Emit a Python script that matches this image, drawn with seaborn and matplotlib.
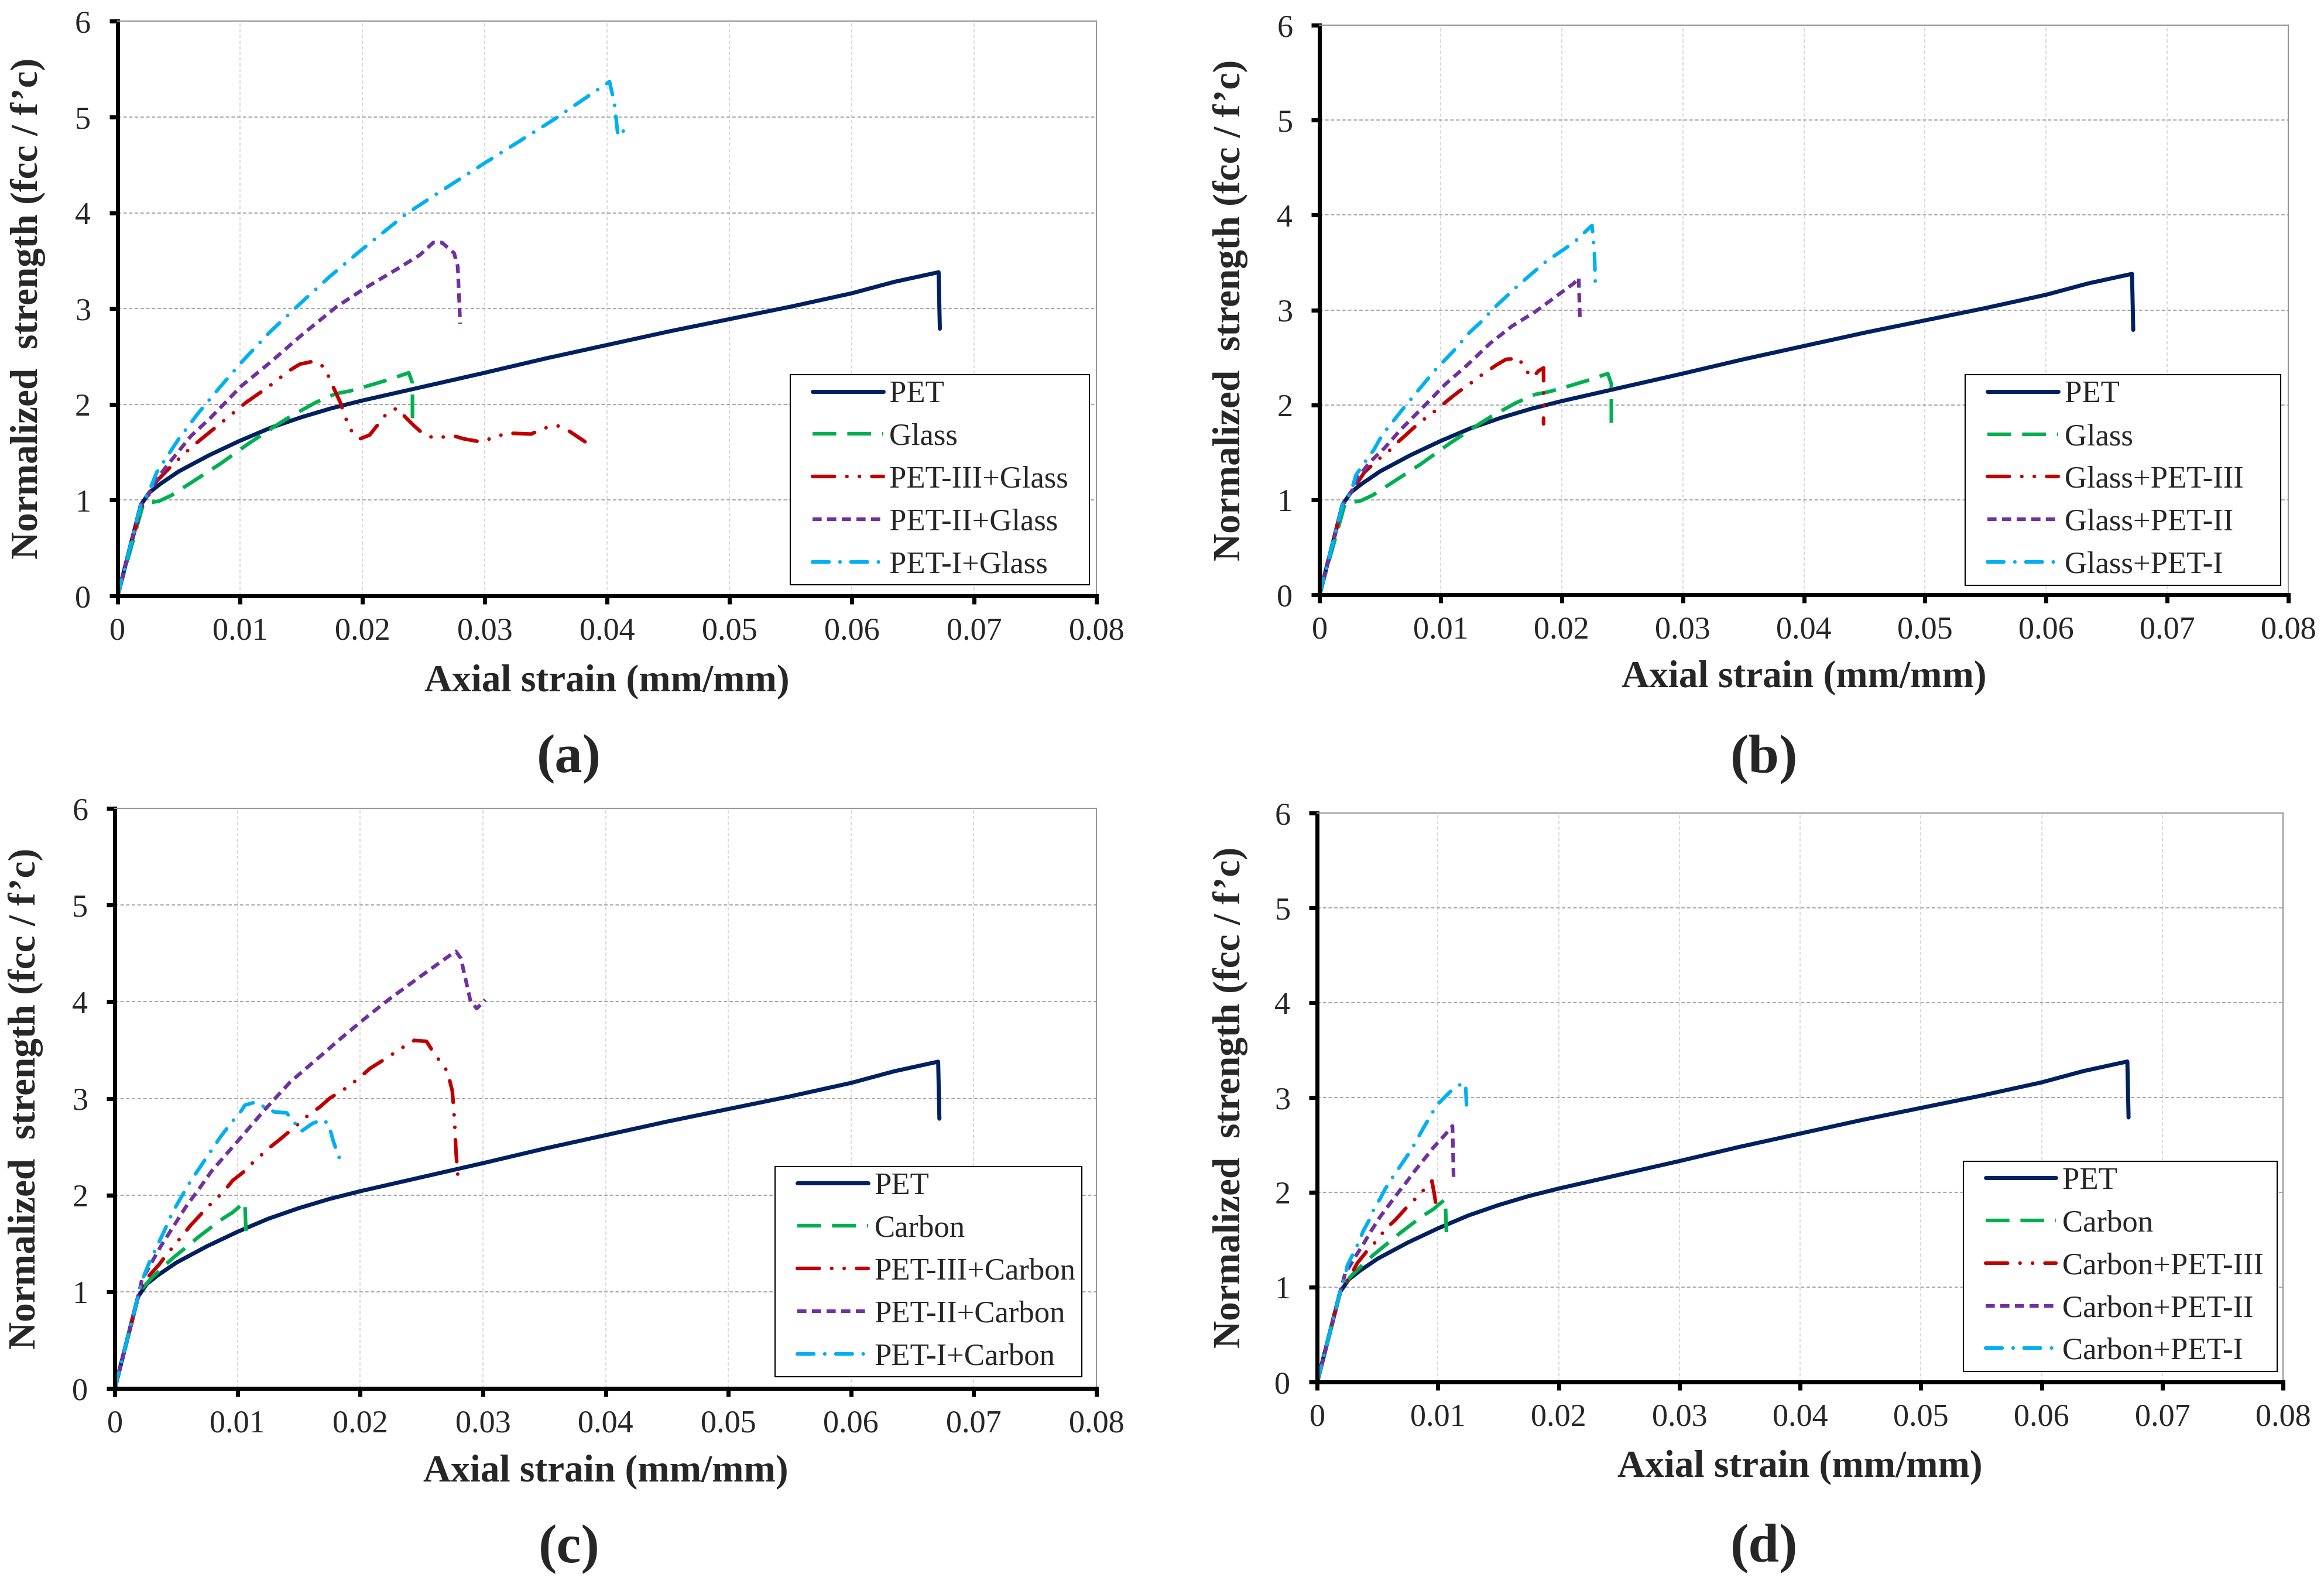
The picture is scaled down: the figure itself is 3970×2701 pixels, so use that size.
import matplotlib
matplotlib.use("Agg")
import matplotlib.pyplot as plt
from matplotlib.lines import Line2D
from matplotlib.legend_handler import HandlerLine2D
import seaborn as sns

# Axial strain (mm/mm) vs normalized strength fcc/f'c

# PET jacket, same curve in every panel
strain_pet = [0, 0.0019, 0.0026, 0.0035, 0.005, 0.0075, 0.01, 0.0125, 0.015, 0.0175,
              0.02, 0.025, 0.03, 0.035, 0.04, 0.045, 0.05, 0.055, 0.06, 0.0635, 0.0671, 0.0672]
stress_pet = [0, 0.95, 1.08, 1.17, 1.30, 1.47, 1.62, 1.755, 1.865, 1.96,
              2.04, 2.185, 2.33, 2.48, 2.62, 2.76, 2.89, 3.02, 3.16, 3.28, 3.38, 2.79]

# Glass jacket, panels (a) and (b)
strain_glass = [0, 0.0021, 0.0034, 0.0044, 0.0061, 0.0084, 0.0107, 0.0132, 0.0142, 0.0162,
                0.0178, 0.019, 0.0209, 0.0222, 0.0238, 0.0241, 0.0241]
stress_glass = [0, 0.96, 0.99, 1.05, 1.19, 1.38, 1.59, 1.80, 1.88, 2.02,
                2.11, 2.14, 2.21, 2.26, 2.33, 2.22, 1.80]

# Carbon jacket, panels (c) and (d)
strain_carbon = [0, 0.002, 0.0029, 0.004, 0.0047, 0.006, 0.0068, 0.0082, 0.0089, 0.0096,
                 0.0101, 0.0106, 0.0107]
stress_carbon = [0, 1.0, 1.13, 1.265, 1.345, 1.48, 1.565, 1.70, 1.765, 1.82,
                 1.875, 1.925, 1.58]

# (a) PET inside, glass outside
strain_p3_glass = [0, 0.0019, 0.0024, 0.0032, 0.0045, 0.006, 0.0083, 0.0105, 0.0124, 0.014,
                   0.0149, 0.016, 0.0169, 0.0177, 0.0182, 0.0186, 0.019, 0.0198, 0.0206, 0.0219,
                   0.0228, 0.0235, 0.0242, 0.0249, 0.0258, 0.0275, 0.0283, 0.0296, 0.0307, 0.0318,
                   0.0338, 0.0348, 0.0359, 0.0368, 0.0382]
stress_p3_glass = [0, 0.92, 1.02, 1.20, 1.37, 1.55, 1.79, 2.02, 2.19, 2.35,
                   2.42, 2.45, 2.39, 2.16, 2.02, 1.87, 1.74, 1.64, 1.68, 1.89,
                   1.96, 1.87, 1.78, 1.70, 1.65, 1.67, 1.64, 1.61, 1.65, 1.70,
                   1.69, 1.75, 1.78, 1.73, 1.61]
strain_p2_glass = [0, 0.0019, 0.0026, 0.0032, 0.0041, 0.006, 0.0076, 0.0101, 0.0124, 0.0151,
                   0.0179, 0.0203, 0.0228, 0.0247, 0.0258, 0.0265, 0.0275, 0.0278, 0.028]
stress_p2_glass = [0, 0.95, 1.08, 1.22, 1.37, 1.67, 1.86, 2.19, 2.43, 2.73,
                   3.02, 3.22, 3.41, 3.56, 3.69, 3.69, 3.58, 3.44, 2.84]
strain_p1_glass = [0, 0.0019, 0.0026, 0.0032, 0.005, 0.0066, 0.0083, 0.0102, 0.0124, 0.0149,
                   0.0173, 0.0198, 0.0236, 0.0261, 0.03, 0.0356, 0.0402, 0.0406, 0.0409, 0.0413,
                   0.0418]
stress_p1_glass = [0, 0.95, 1.10, 1.29, 1.64, 1.91, 2.17, 2.45, 2.75, 3.05,
                   3.33, 3.60, 3.99, 4.20, 4.52, 4.97, 5.37, 5.15, 4.80, 4.85,
                   4.92]

# (b) glass inside, PET outside
strain_glass_p3 = [0, 0.0019, 0.0026, 0.0037, 0.0048, 0.0057, 0.0063, 0.0071, 0.0083, 0.0091,
                   0.0107, 0.0115, 0.0123, 0.0131, 0.0146, 0.0154, 0.0165, 0.0169, 0.0176, 0.0181,
                   0.0185, 0.0185]
stress_glass_p3 = [0, 0.95, 1.08, 1.29, 1.42, 1.51, 1.59, 1.68, 1.82, 1.89,
                   2.06, 2.14, 2.21, 2.29, 2.42, 2.48, 2.49, 2.38, 2.29, 2.36,
                   2.39, 1.80]
strain_glass_p2 = [0, 0.0019, 0.0026, 0.0032, 0.0041, 0.0054, 0.0067, 0.0085, 0.0104, 0.0122,
                   0.0141, 0.0159, 0.0178, 0.0195, 0.021, 0.0214, 0.0215]
stress_glass_p2 = [0, 0.95, 1.08, 1.24, 1.39, 1.55, 1.74, 1.97, 2.22, 2.42,
                   2.65, 2.83, 2.98, 3.14, 3.28, 3.34, 2.92]
strain_glass_p1 = [0, 0.0019, 0.0026, 0.003, 0.0037, 0.0045, 0.0052, 0.0059, 0.0069, 0.008,
                   0.0095, 0.0104, 0.0113, 0.0122, 0.0133, 0.0144, 0.0165, 0.0187, 0.021, 0.0225,
                   0.0227, 0.0228]
stress_glass_p1 = [0, 0.95, 1.08, 1.26, 1.39, 1.53, 1.69, 1.80, 1.96, 2.13,
                   2.36, 2.48, 2.60, 2.74, 2.87, 3.02, 3.27, 3.51, 3.71, 3.89,
                   3.60, 3.20]

# (c) PET inside, carbon outside
strain_p3_carbon = [0, 0.0019, 0.0024, 0.0036, 0.0042, 0.0055, 0.0062, 0.0076, 0.0089, 0.0096,
                    0.0105, 0.0112, 0.0126, 0.0134, 0.015, 0.0158, 0.0167, 0.0175, 0.019, 0.02,
                    0.0208, 0.0218, 0.0235, 0.0244, 0.0254, 0.026, 0.0271, 0.0275, 0.0276, 0.0277,
                    0.0278, 0.0279, 0.028]
stress_p3_carbon = [0, 0.95, 1.11, 1.28, 1.38, 1.58, 1.69, 1.88, 2.04, 2.15,
                    2.24, 2.33, 2.49, 2.57, 2.74, 2.83, 2.91, 3.00, 3.12, 3.22,
                    3.31, 3.39, 3.53, 3.60, 3.59, 3.47, 3.28, 3.08, 2.93, 2.73,
                    2.46, 2.29, 2.12]
strain_p2_carbon = [0, 0.0019, 0.0022, 0.0029, 0.0037, 0.0047, 0.0058, 0.0069, 0.0079, 0.009,
                    0.0101, 0.0122, 0.0143, 0.0165, 0.0186, 0.0207, 0.0224, 0.025, 0.0272, 0.0278,
                    0.0282, 0.029, 0.0295, 0.0302]
stress_p2_carbon = [0, 0.95, 1.12, 1.28, 1.46, 1.66, 1.88, 2.07, 2.25, 2.41,
                    2.57, 2.88, 3.17, 3.41, 3.64, 3.86, 4.03, 4.27, 4.47, 4.52,
                    4.45, 4.00, 3.93, 4.02]
strain_p1_carbon = [0, 0.0019, 0.0022, 0.0028, 0.004, 0.0047, 0.0056, 0.0062, 0.0069, 0.0078,
                    0.0086, 0.0095, 0.0103, 0.0106, 0.0114, 0.0124, 0.013, 0.014, 0.0147, 0.0152,
                    0.0161, 0.0169, 0.0174, 0.0175, 0.0178, 0.0182, 0.0186]
stress_p1_carbon = [0, 0.95, 1.11, 1.30, 1.62, 1.82, 2.02, 2.15, 2.28, 2.45,
                    2.60, 2.75, 2.87, 2.93, 2.96, 2.90, 2.86, 2.85, 2.74, 2.66,
                    2.74, 2.78, 2.74, 2.70, 2.56, 2.41, 2.31]

# (d) carbon inside, PET outside
strain_carbon_p3 = [0, 0.0019, 0.0028, 0.0033, 0.0043, 0.0051, 0.0056, 0.0064, 0.0074, 0.0082,
                    0.0095, 0.0097, 0.0099]
stress_carbon_p3 = [0, 0.95, 1.13, 1.25, 1.41, 1.51, 1.61, 1.70, 1.84, 1.94,
                    2.12, 1.98, 1.81]
strain_carbon_p2 = [0, 0.0019, 0.0023, 0.0031, 0.0038, 0.0045, 0.0052, 0.0059, 0.0066, 0.0074,
                    0.0081, 0.0088, 0.0096, 0.0106, 0.0112, 0.0113]
stress_carbon_p2 = [0, 0.95, 1.14, 1.31, 1.45, 1.60, 1.74, 1.86, 1.98, 2.11,
                    2.23, 2.34, 2.47, 2.61, 2.70, 2.12]
strain_carbon_p1 = [0, 0.0019, 0.0023, 0.0025, 0.0035, 0.0038, 0.0044, 0.0048, 0.0052, 0.0056,
                    0.0062, 0.007, 0.0078, 0.0088, 0.0099, 0.011, 0.0121, 0.0123, 0.0124]
stress_carbon_p1 = [0, 0.95, 1.12, 1.23, 1.49, 1.59, 1.73, 1.86, 1.93, 2.03,
                    2.15, 2.30, 2.45, 2.68, 2.92, 3.06, 3.16, 3.10, 2.83]

x_ticks = [0, 0.01, 0.02, 0.03, 0.04, 0.05, 0.06, 0.07, 0.08]
x_tick_labels = ["0", "0.01", "0.02", "0.03", "0.04", "0.05", "0.06", "0.07", "0.08"]
y_ticks = [0, 1, 2, 3, 4, 5, 6]

sns.set_style("white")
plt.rcParams["font.family"] = ["Liberation Serif", "DejaVu Serif"]

# line look per role: colour, width, dash pattern, cap style
line_styles = {
    "pet": ("#002060", 5.0, "-", "butt"),
    "single": ("#00B050", 4.5, (0, (6.5, 3)), "butt"),
    "three": ("#C00000", 4.5, (0, (6, 3.4, 0.01, 3.4, 0.01, 3.4)), "round"),
    "two": ("#7030A0", 4.5, (0, (2.5, 1.5)), "butt"),
    "one": ("#00B0F0", 4.5, (0, (4.5, 3, 0.01, 3)), "round"),
}

panels = [
    dict(rect=[0.0506, 0.6231, 0.4212, 0.3634], ylab=-0.0915, xlab=-0.150,
         leg=(0.993, 0.019), leg_pad="  ", tag="(a)", tag_xy=(0.2448, 0.5198),
         series=[("pet", strain_pet, stress_pet, "PET"),
                 ("single", strain_glass, stress_glass, "Glass"),
                 ("three", strain_p3_glass, stress_p3_glass, "PET-III+Glass"),
                 ("two", strain_p2_glass, stress_p2_glass, "PET-II+Glass"),
                 ("one", strain_p1_glass, stress_p1_glass, "PET-I+Glass")]),
    dict(rect=[0.5678, 0.6238, 0.4168, 0.3603], ylab=-0.0918, xlab=-0.146,
         leg=(0.992, 0.017), leg_pad="    ", tag="(b)", tag_xy=(0.759, 0.5198),
         series=[("pet", strain_pet, stress_pet, "PET"),
                 ("single", strain_glass, stress_glass, "Glass"),
                 ("three", strain_glass_p3, stress_glass_p3, "Glass+PET-III"),
                 ("two", strain_glass_p2, stress_glass_p2, "Glass+PET-II"),
                 ("one", strain_glass_p1, stress_glass_p1, "Glass+PET-I")]),
    dict(rect=[0.0494, 0.1218, 0.4224, 0.3669], ylab=-0.0909, xlab=-0.144,
         leg=(0.985, 0.020), leg_pad="", tag="(c)", tag_xy=(0.2448, 0.0200),
         series=[("pet", strain_pet, stress_pet, "PET"),
                 ("single", strain_carbon, stress_carbon, "Carbon"),
                 ("three", strain_p3_carbon, stress_p3_carbon, "PET-III+Carbon"),
                 ("two", strain_p2_carbon, stress_p2_carbon, "PET-II+Carbon"),
                 ("one", strain_p1_carbon, stress_p1_carbon, "PET-I+Carbon")]),
    dict(rect=[0.5668, 0.1259, 0.4156, 0.3598], ylab=-0.0897, xlab=-0.150,
         leg=(0.994, 0.0185), leg_pad=" ", tag="(d)", tag_xy=(0.759, 0.0207),
         series=[("pet", strain_pet, stress_pet, "PET"),
                 ("single", strain_carbon, stress_carbon, "Carbon"),
                 ("three", strain_carbon_p3, stress_carbon_p3, "Carbon+PET-III"),
                 ("two", strain_carbon_p2, stress_carbon_p2, "Carbon+PET-II"),
                 ("one", strain_carbon_p1, stress_carbon_p1, "Carbon+PET-I")]),
]

fig = plt.figure(figsize=(39.70, 27.01), dpi=100)

for p in panels:
    ax = fig.add_axes(p["rect"])
    for role, xs, ys, name in p["series"]:
        color, lw, ls, cap = line_styles[role]
        sns.lineplot(x=xs, y=ys, ax=ax, sort=False, estimator=None, color=color,
                     linewidth=lw, linestyle=ls, dash_capstyle=cap, label=name)

    ax.set_xlim(0, 0.08)
    ax.set_ylim(0, 6)
    ax.set_xticks(x_ticks)
    ax.set_xticklabels(x_tick_labels)
    ax.set_yticks(y_ticks)
    ax.tick_params(axis="both", which="major", direction="out", length=10, width=5,
                   labelsize=39, color="black", bottom=True, left=True)
    ax.tick_params(axis="x", pad=16)
    ax.tick_params(axis="y", pad=23)

    ax.set_axisbelow(True)
    ax.yaxis.grid(True, color="#A6A6A6", linestyle=(0, (3, 2)), linewidth=1.4)
    ax.xaxis.grid(True, color="#D9D9D9", linestyle=(0, (3, 2)), linewidth=1.4)

    for side in ["left", "bottom"]:
        ax.spines[side].set_color("black")
        ax.spines[side].set_linewidth(5)
    for side in ["top", "right"]:
        ax.spines[side].set_color("#969696")
        ax.spines[side].set_linewidth(1.5)

    ax.set_xlabel("Axial strain (mm/mm)", fontsize=47, fontweight="bold", va="center")
    ax.set_ylabel("Normalized  strength (fcc / f\u2019c)", fontsize=47,
                  fontweight="bold", va="center")
    ax.xaxis.set_label_coords(0.5, p["xlab"])
    ax.yaxis.set_label_coords(p["ylab"], 0.5)

    # legend: handle inset from the frame, some room after the text
    handles, labels = ax.get_legend_handles_labels()
    leg = ax.legend(handles, [s + p["leg_pad"] for s in labels], loc="lower right",
                    bbox_to_anchor=p["leg"], borderaxespad=0,
                    fontsize=38, frameon=True, fancybox=False, shadow=False,
                    framealpha=1, edgecolor="black", handlelength=2.82,
                    handletextpad=0.2, labelspacing=0.47, borderpad=0.19,
                    handler_map={Line2D: HandlerLine2D(xpad=0.53)})
    leg.get_frame().set_linewidth(1.5)

    fig.text(p["tag_xy"][0], p["tag_xy"][1], p["tag"], fontsize=68,
             fontweight="bold", ha="center", va="center")

fig.savefig("out.png", dpi=100)
